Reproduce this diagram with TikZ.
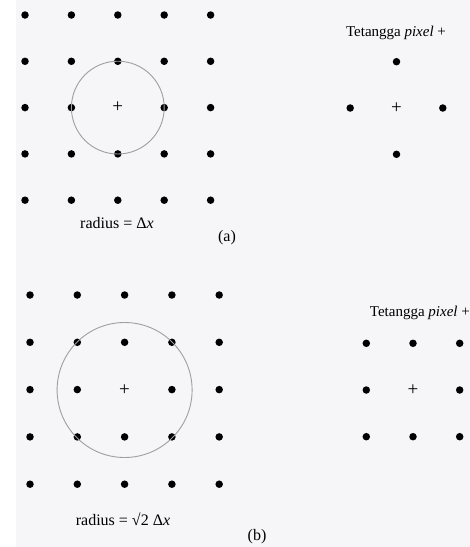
\documentclass[tikz,border=0pt]{standalone}
\usepackage{fontspec}
\setmainfont{Liberation Serif}
\usetikzlibrary{positioning}
\definecolor{paper}{RGB}{246,245,247}

\begin{document}
\begin{tikzpicture}[x=1pt,y=-1pt,
    dot/.style={circle,fill=black,inner sep=0pt,minimum size=7.5pt},
    cross/.style={inner sep=0pt,font=\fontsize{19}{20}\selectfont},
    caption/.style={inner sep=0pt,font=\fontsize{16}{18}\selectfont},
    nbtext/.style={inner sep=0pt,font=\fontsize{15}{17}\selectfont},
    ring/.style={draw=gray!75,line width=0.9pt},
]
\useasboundingbox (0,0) rectangle (470,547);
\fill[paper] (16,0) rectangle (470,547);

\foreach \i in {0,...,4}
  \foreach \j in {0,...,4}
    {\ifnum\i\j=22 \else \node[dot] (a\i\j) at (25+46.4*\i,15+46.3*\j) {};\fi}
\node[cross] (crossA) at (117.8,107.6) {+};
\draw[ring] (crossA) circle[radius=46.4];
\node[caption] (radA) at (117,223) {radius = Δ\textit{x}};
\node[caption] (labA) at (227,238) {(a)};

\node[nbtext] (nbA) at (396,33) {Tetangga \textit{pixel} +};
\node[cross] (crossNA) at (396.5,108) {+};
\node[dot] (nA1) at (396.5,61.7) {};
\node[dot] (nA2) at (350.2,108) {};
\node[dot] (nA3) at (442.8,108) {};
\node[dot] (nA4) at (396.5,154.3) {};

\foreach \i in {0,...,4}
  \foreach \j in {0,...,4}
    {\ifnum\i\j=22 \else \node[dot] (b\i\j) at (30+47.3*\i,295+47.3*\j) {};\fi}
\node[cross] (crossB) at (124.6,390) {+};
\draw[ring] (crossB) circle[radius=67.5];
\node[caption] (radB) at (123,519) {radius = √2 Δ\textit{x}};
\node[caption] (labB) at (257,537) {(b)};

\node[nbtext,anchor=east] (nbB) at (470,313) {Tetangga \textit{pixel} +};
\node[cross] (crossNB) at (413,390) {+};
\foreach \i in {0,1,2}
  \foreach \j in {0,1,2}
    {\ifnum\i\j=11 \else \node[dot] (nb\i\j) at (366.3+46.7*\i,343.3+46.7*\j) {};\fi}
\end{tikzpicture}
\end{document}
